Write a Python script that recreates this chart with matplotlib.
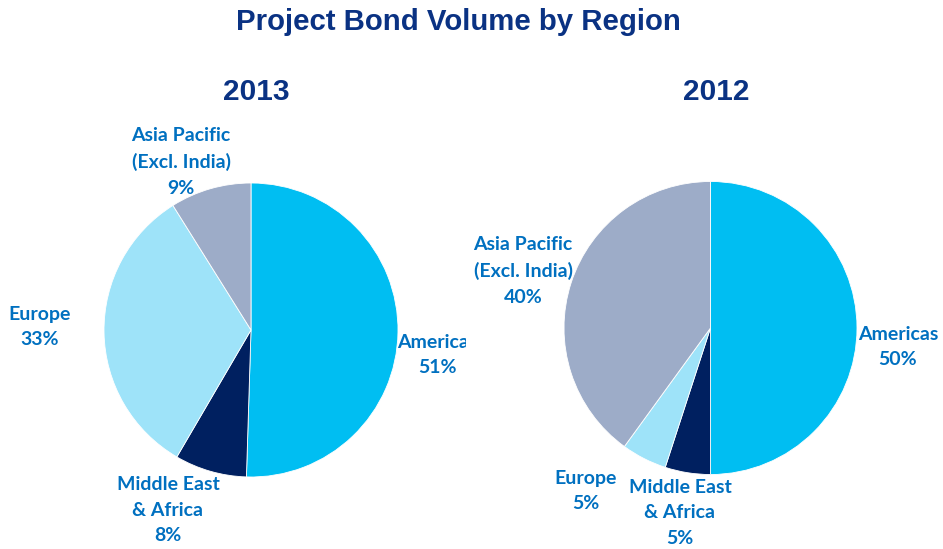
import matplotlib.pyplot as plt
from matplotlib.transforms import Bbox, TransformedBbox

W, H = 943, 549

regions = ["Americas", "Middle East\n& Africa", "Europe", "Asia Pacific\n(Excl. India)"]
share_2013 = [51, 8, 33, 9]
share_2012 = [50, 5, 5, 40]
colors = ["#00BEF2", "#002060", "#9EE3F9", "#9DACC8"]

label_col = "#0070C0"
title_col = "#0A3283"

# label positions in pixels (x, y from top), per pie, same order as regions
lab_2013 = [(437, 355), (168, 510), (40, 327), (181, 162)]
lab_2012 = [(898, 347), (680, 513), (586, 491), (523, 271)]

fig = plt.figure(figsize=(W / 100, H / 100), dpi=100)


def draw_pie(cx, cy, r, values, labels_px, year, year_x, clip_right=None):
    ax = fig.add_axes([(cx - r) / W, (H - cy - r) / H, 2 * r / W, 2 * r / H])
    ax.pie(values, colors=colors, startangle=90, counterclock=False,
           radius=1, wedgeprops=dict(edgecolor="white", linewidth=0.6))
    ax.set_xlim(-1, 1)
    ax.set_ylim(-1, 1)
    ax.set_aspect("equal")
    ax.axis("off")
    for name, v, (x, y) in zip(regions, values, labels_px):
        t = fig.text(x / W, 1 - y / H, f"{name}\n{v}%", ha="center", va="center",
                     fontsize=14, fontweight="bold", color=label_col,
                     family="Lato", linespacing=1.6)
        if clip_right is not None and name == "Americas":
            # the reference cuts this label off at the right
            t.set_clip_box(TransformedBbox(Bbox([[0, 0], [clip_right / W, 1]]), fig.transFigure))
            t.set_clip_on(True)
    fig.text(year_x / W, 1 - 92 / H, year, ha="center", va="center",
             fontsize=21.5, fontweight="bold", color=title_col, family="Liberation Sans")


draw_pie(251, 330, 147, share_2013, lab_2013, "2013", 256, clip_right=466)
draw_pie(710.5, 328, 146.5, share_2012, lab_2012, "2012", 716)

fig.text(458.5 / W, 1 - 22 / H, "Project Bond Volume by Region", ha="center", va="center",
         fontsize=21.2, fontweight="bold", color=title_col, family="Liberation Sans")

fig.savefig("out.png", dpi=100)
